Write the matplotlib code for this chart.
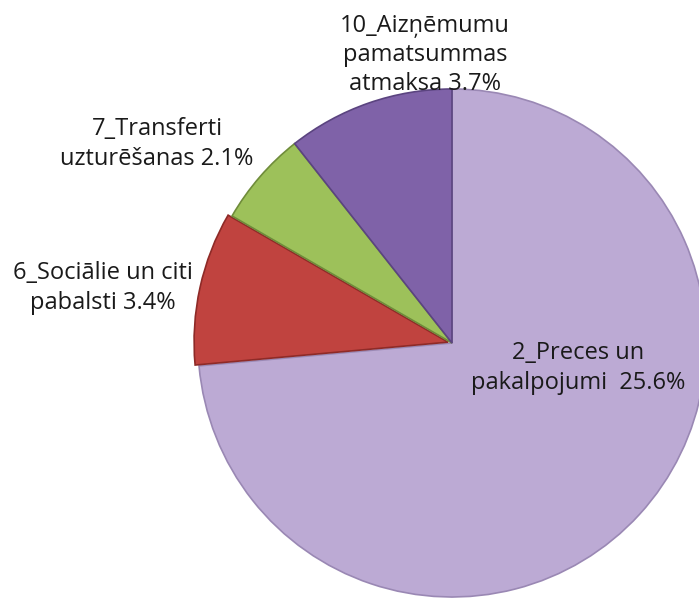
import matplotlib.pyplot as plt

# --- dati ---
kategorijas = ["2_Preces un\npakalpojumi ", "6_Sociālie un citi\npabalsti",
               "7_Transferti\nuzturēšanas", "10_Aizņēmumu\npamatsummas\natmaksa"]
vertibas = [25.6, 3.4, 2.1, 3.7]
krasas = ["#BCAAD4", "#C0433F", "#9DC15A", "#7F62A8"]
malas = ["#9A88B4", "#8E2A27", "#6F8C3A", "#5B4480"]

plt.rcParams['font.family'] = ['Open Sans', 'DejaVu Sans']

fig = plt.figure(figsize=(6.99, 6.01), dpi=100)
ax = fig.add_axes([0, 0, 1, 1])

wedges, _ = ax.pie(vertibas, colors=krasas, startangle=90, counterclock=False,
                   center=(452, 258), radius=254, explode=[0, 4, 0, 0],
                   wedgeprops=dict(linewidth=1.2), frame=True)
for w, m in zip(wedges, malas):
    w.set_edgecolor(m)
ax.set_xlim(0, 699)
ax.set_ylim(0, 601)
ax.set_aspect('equal')
ax.axis('off')

# etiķetes
pozicijas = [(578, 233), (103, 313), (157, 457), (425, 546)]
for nos, v, (x, y) in zip(kategorijas, vertibas, pozicijas):
    ax.text(x, y, f"{nos} {v}%", ha='center', va='center', fontsize=17,
            color='#1a1a1a', linespacing=1.3)

fig.savefig("out.png", dpi=100)
